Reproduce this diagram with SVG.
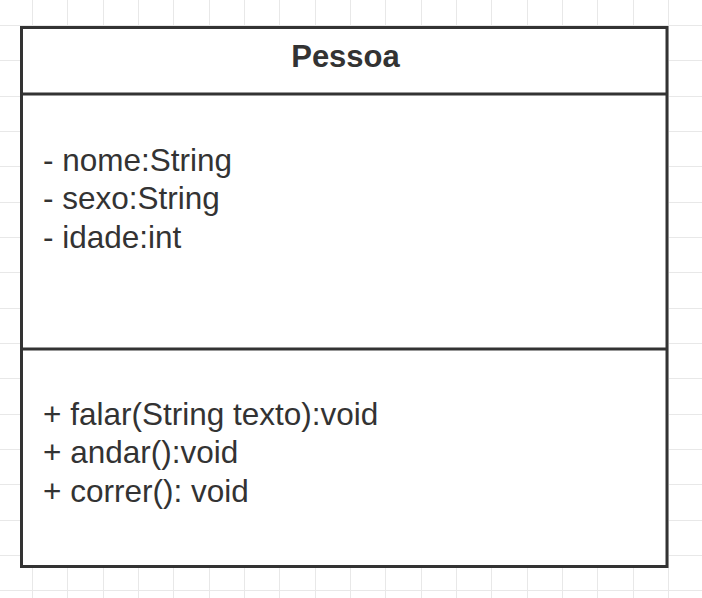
<svg xmlns="http://www.w3.org/2000/svg" width="702" height="598" viewBox="0 0 702 598">
<style>
.grid{stroke:#e8e8e8;stroke-width:1;fill:none}
.box{fill:#ffffff;stroke:#333333;stroke-width:3}
.div{stroke:#333333;stroke-width:3;fill:none}
.t{font-family:"Liberation Sans",Arial,sans-serif;font-size:31.5px;fill:#333333}
.title{font-weight:bold;text-anchor:middle;font-size:31px}
</style>
<rect width="702" height="598" fill="#ffffff"/>
<g id="grid" class="grid">
<path d="M32.5 0V598M67.5 0V598M103.5 0V598M138.5 0V598M173.5 0V598M209.5 0V598M244.5 0V598M279.5 0V598M315.5 0V598M350.5 0V598M385.5 0V598M421.5 0V598M456.5 0V598M491.5 0V598M527.5 0V598M562.5 0V598M597.5 0V598M633.5 0V598M668.5 0V598"/>
<path d="M0 25.5H702M0 60.5H702M0 96.5H702M0 131.5H702M0 166.5H702M0 202.5H702M0 237.5H702M0 272.5H702M0 308.5H702M0 343.5H702M0 378.5H702M0 414.5H702M0 449.5H702M0 484.5H702M0 520.5H702M0 555.5H702M0 590.5H702"/>
</g>
<g id="Pessoa">
<rect class="box" x="21.5" y="27.5" width="645.5" height="539"/>
<line class="div" x1="21.5" y1="94" x2="667" y2="94"/>
<line class="div" x1="21.5" y1="349" x2="667" y2="349"/>
<text class="t title" x="345.5" y="67">Pessoa</text>
<text class="t" x="43" y="171">- nome:String</text>
<text class="t" x="43" y="209">- sexo:String</text>
<text class="t" x="43" y="248">- idade:int</text>
<text class="t" x="43" y="425">+ falar(String texto):void</text>
<text class="t" x="43" y="463">+ andar():void</text>
<text class="t" x="43" y="502">+ correr(): void</text>
</g>
<g id="connectors"/>
</svg>
